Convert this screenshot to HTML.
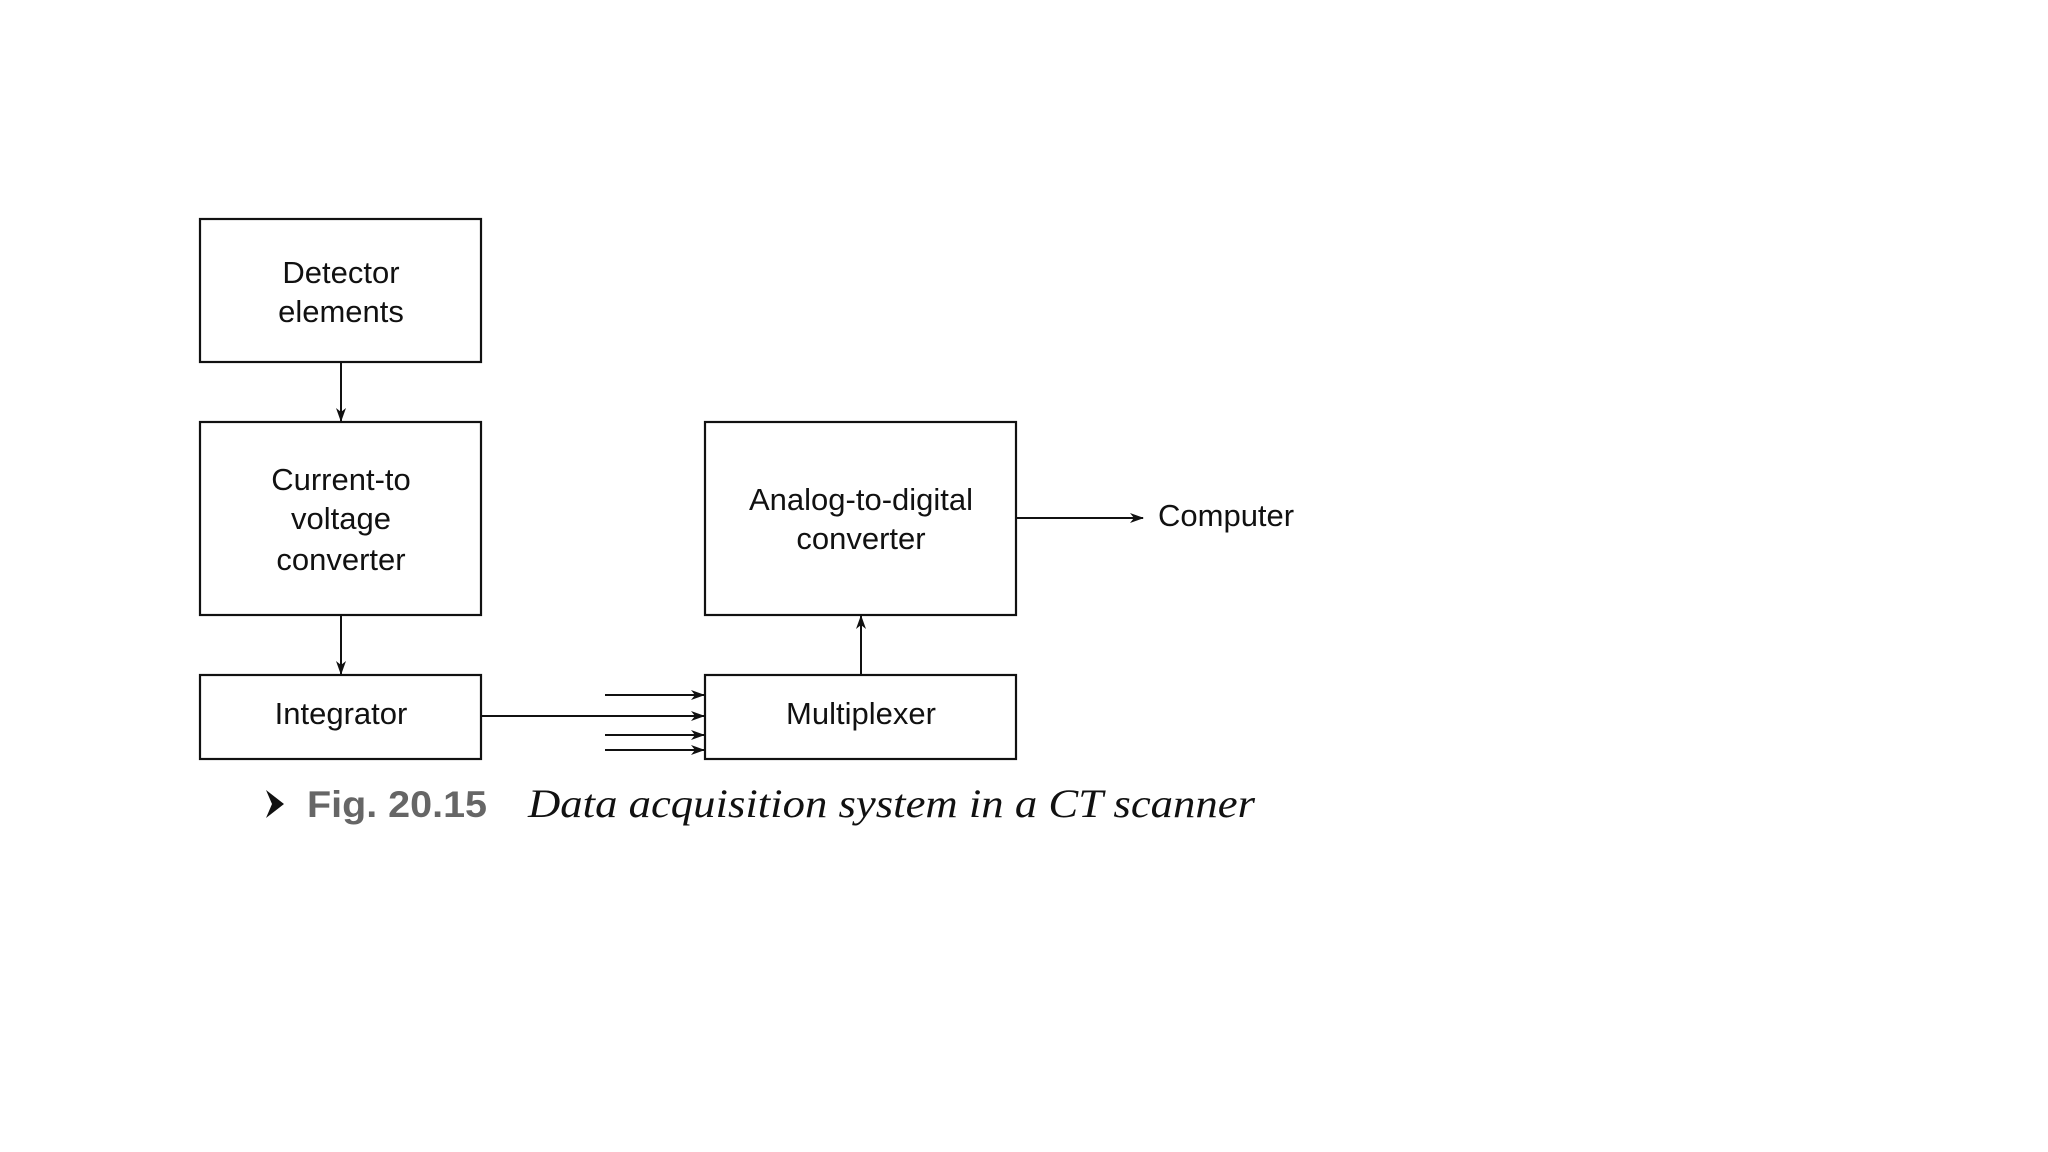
<!DOCTYPE html>
<html><head><meta charset="utf-8"><style>html,body{margin:0;padding:0;background:#fff}svg{display:block}</style></head>
<body>
<svg width="2048" height="1152" viewBox="0 0 2048 1152" xmlns="http://www.w3.org/2000/svg">
<defs>
<marker id="a" markerWidth="14" markerHeight="10" refX="13" refY="5" orient="auto" markerUnits="userSpaceOnUse">
<path d="M0,0 L14,5 L0,10 L4,5 Z" fill="#111"/>
</marker>
</defs>
<g fill="none" stroke="#111" stroke-width="2.2">
<rect x="200" y="219" width="281" height="143"/>
<rect x="200" y="422" width="281" height="193"/>
<rect x="200" y="675" width="281" height="84"/>
<rect x="705" y="422" width="311" height="193"/>
<rect x="705" y="675" width="311" height="84"/>
</g>
<g stroke="#111" stroke-width="2" marker-end="url(#a)">
<line x1="341" y1="362" x2="341" y2="421"/>
<line x1="341" y1="615" x2="341" y2="674"/>
<line x1="861" y1="675" x2="861" y2="616"/>
<line x1="1016" y1="518" x2="1143" y2="518"/>
<line x1="481" y1="716" x2="704" y2="716"/>
<line x1="605" y1="695" x2="704" y2="695"/>
<line x1="605" y1="735" x2="704" y2="735"/>
<line x1="605" y1="750" x2="704" y2="750"/>
</g>
<g font-family="Liberation Sans, sans-serif" font-size="31" fill="#111" text-anchor="middle">
<text x="341" y="283">Detector</text>
<text x="341" y="322">elements</text>
<text x="341" y="490">Current-to</text>
<text x="341" y="529">voltage</text>
<text x="341" y="570">converter</text>
<text x="341" y="724">Integrator</text>
<text x="861" y="510">Analog-to-digital</text>
<text x="861" y="549">converter</text>
<text x="861" y="724">Multiplexer</text>
<text x="1158" y="526" text-anchor="start">Computer</text>
</g>
<path d="M266,790 L284,804 L266,818 L272,804 Z" fill="#111"/>
<text x="307" y="817" font-family="Liberation Sans, sans-serif" font-weight="bold" font-size="37" fill="#666" textLength="180" lengthAdjust="spacingAndGlyphs">Fig. 20.15</text>
<text x="528" y="817" font-family="Liberation Serif, serif" font-style="italic" font-size="40" fill="#111" textLength="727" lengthAdjust="spacingAndGlyphs">Data acquisition system in a CT scanner</text>
</svg>
</body></html>
